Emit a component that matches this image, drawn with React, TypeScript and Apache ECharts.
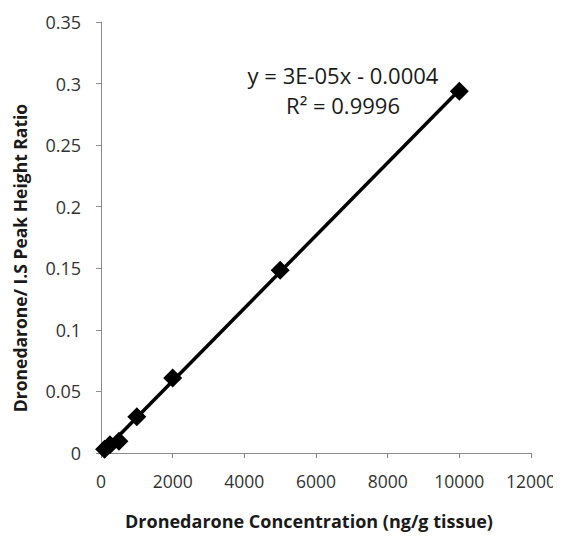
import React, { useEffect, useRef } from "react";
import * as echarts from "echarts";

const concentrations = [0, 100, 250, 500, 1000, 2000, 5000, 10000];
const ratios = [-0.0004, 0.003, 0.0068, 0.0095, 0.0295, 0.0609, 0.1485, 0.2938];
const xTicks = [0, 2000, 4000, 6000, 8000, 10000, 12000];
const yTicks = [0, 0.05, 0.1, 0.15, 0.2, 0.25, 0.3, 0.35];
const equationText = "y = 3E-05x - 0.0004";
const r2Text = "R² = 0.9996";
const xTitle = "Dronedarone Concentration (ng/g tissue)";
const yTitle = "Dronedarone/ I.S Peak Height Ratio";

function fit(xs: number[], ys: number[]) {
  const n = xs.length;
  const mx = xs.reduce((a, b) => a + b, 0) / n;
  const my = ys.reduce((a, b) => a + b, 0) / n;
  let sxy = 0, sxx = 0;
  for (let i = 0; i < n; i++) {
    sxy += (xs[i] - mx) * (ys[i] - my);
    sxx += (xs[i] - mx) * (xs[i] - mx);
  }
  const slope = sxy / sxx;
  return { slope, intercept: my - slope * mx };
}

export default function App() {
  const ref = useRef<HTMLDivElement>(null);
  useEffect(() => {
    if (!ref.current) return;
    const chart = echarts.init(ref.current, null, { renderer: "svg" });
    const { slope, intercept } = fit(concentrations, ratios);
    const x0 = concentrations[0];
    const x1 = concentrations[concentrations.length - 1];
    const font = "'Open Sans', 'Noto Sans', sans-serif";
    chart.setOption({
      animation: false,
      backgroundColor: "#ffffff",
      grid: { left: 101, right: 30, top: 22, bottom: 94 },
      xAxis: {
        type: "value",
        min: xTicks[0],
        max: xTicks[xTicks.length - 1],
        interval: 2000,
        axisLine: { lineStyle: { color: "#8c8c8c", width: 1 } },
        axisTick: { show: true, length: 5, lineStyle: { color: "#8c8c8c" } },
        axisLabel: {
          fontFamily: font,
          fontSize: 17.5,
          color: "#333333",
          margin: 19,
          formatter: (v: number) => String(v),
        },
        splitLine: { show: false },
      },
      yAxis: {
        type: "value",
        min: yTicks[0],
        max: yTicks[yTicks.length - 1],
        interval: 0.05,
        axisLine: { show: true, lineStyle: { color: "#8c8c8c", width: 1 } },
        axisTick: { show: true, length: 5, lineStyle: { color: "#8c8c8c" } },
        axisLabel: {
          fontFamily: font,
          fontSize: 18,
          color: "#333333",
          margin: 20,
          formatter: (v: number) => String(parseFloat(v.toFixed(2))),
        },
        splitLine: { show: false },
      },
      series: [
        {
          type: "line",
          data: [
            [x0, slope * x0 + intercept],
            [x1, slope * x1 + intercept],
          ],
          symbol: "none",
          lineStyle: { color: "#000000", width: 3.5 },
          z: 2,
        },
        {
          type: "scatter",
          data: concentrations.map((c, i) => [c, ratios[i]]),
          symbol: "diamond",
          symbolSize: [19, 19],
          itemStyle: { color: "#000000", opacity: 1 },
          z: 3,
        },
      ],
      graphic: [
        {
          type: "text",
          x: 343,
          y: 75,
          style: {
            text: equationText,
            fontFamily: font,
            fontSize: 22,
            fill: "#1a1a1a",
            textAlign: "center",
            textVerticalAlign: "middle",
          },
        },
        {
          type: "text",
          x: 343,
          y: 105,
          style: {
            text: r2Text,
            fontFamily: font,
            fontSize: 22,
            fill: "#1a1a1a",
            textAlign: "center",
            textVerticalAlign: "middle",
          },
        },
        {
          type: "text",
          x: 309,
          y: 521,
          style: {
            text: xTitle,
            fontFamily: font,
            fontSize: 18,
            fontWeight: "bold",
            fill: "#1a1a1a",
            textAlign: "center",
            textVerticalAlign: "middle",
          },
        },
        {
          type: "text",
          x: 20,
          y: 258,
          rotation: Math.PI / 2,
          style: {
            text: yTitle,
            fontFamily: font,
            fontSize: 17.5,
            fontWeight: "bold",
            fill: "#1a1a1a",
            textAlign: "center",
            textVerticalAlign: "middle",
          },
        },
      ],
    });
    return () => chart.dispose();
  }, []);
  return <div ref={ref} style={{ width: 561, height: 547, margin: -8 }} />;
}
